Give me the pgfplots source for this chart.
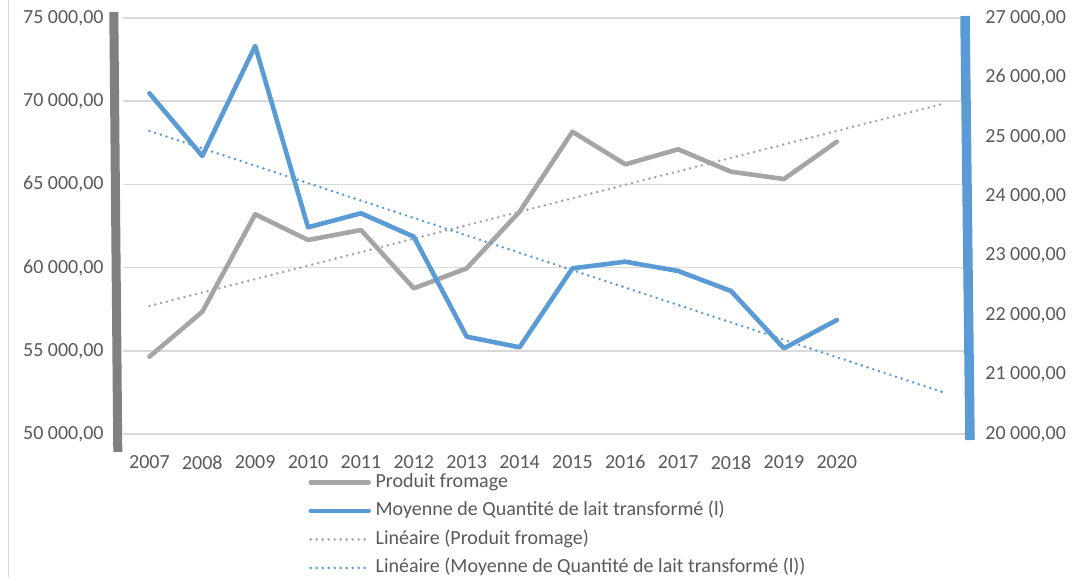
\documentclass[border=0pt]{standalone}
\usepackage{pgfplots}
\pgfplotsset{compat=1.18}
\usepackage{fontspec}
\setmainfont{Carlito}

\definecolor{fromage}{HTML}{A5A5A5}
\definecolor{lait}{HTML}{5B9BD5}
\definecolor{axegris}{HTML}{808080}
\definecolor{grille}{HTML}{D9D9D9}
\definecolor{texte}{HTML}{595959}

\pgfplotsset{
  base/.style={
    scale only axis, width=423pt, height=208pt,
    at={(0,0)}, anchor=south west,
    xmin=-0.5, xmax=15.5,
    scaled y ticks=false,
    axis line style={draw=none},
    tick style={draw=none},
    ticklabel style={font=\fontsize{10}{12}\selectfont, text=texte, inner sep=0pt},
  },
  serie/.style={line width=2.3pt, line join=round, line cap=round},
  tendance/.style={line width=1.4pt, line cap=round, dash pattern=on 0pt off 3pt},
}

\begin{document}
\begin{tikzpicture}
\path[use as bounding box] (-61.5pt,-71.5pt) rectangle (478.5pt,217pt);
\draw[grille, line width=0.75pt] (-57.35pt,-71.5pt) -- (-57.35pt,217pt);

% axe de gauche : produit fromage
\begin{axis}[base, name=ax1,
  ymin=50000, ymax=75000,
  ytick={50000,55000,...,75000},
  yticklabels={{50~000,00},{55~000,00},{60~000,00},{65~000,00},{70~000,00},{75~000,00}},
  yticklabel shift=9.5pt,
  xtick={0,...,13},
  xticklabels={2007,2008,2009,2010,2011,2012,2013,2014,2015,2016,2017,2018,2019,2020},
  xticklabel shift=10.5pt,
  ymajorgrids, grid style={grille, line width=0.75pt},
]
\addplot[fromage, serie] coordinates {
  (0,54645) (1,57349) (2,63202) (3,61658) (4,62259) (5,58754) (6,59956)
  (7,63358) (8,68165) (9,66206) (10,67109) (11,65762) (12,65323) (13,67566)
};
\addplot[fromage, tendance] coordinates {(0,57690) (15,69831)};
\end{axis}

% axe de droite : lait transforme
\begin{axis}[base, name=ax2,
  ymin=20000, ymax=27000,
  ytick={20000,21000,...,27000},
  yticklabels={{20~000,00},{21~000,00},{22~000,00},{23~000,00},{24~000,00},{25~000,00},{26~000,00},{27~000,00}},
  yticklabel pos=right,
  yticklabel shift=8pt,
  xtick=\empty,
  legend image code/.code={\draw[#1] (0pt,0pt) -- (29pt,0pt);},
  legend style={at={(axis description cs:0.2187,-0.0913)}, anchor=north west,
    draw=none, fill=none, inner sep=0pt, row sep=4.25pt, column sep=2.3pt,
    font=\fontsize{10}{12}\selectfont, text=texte,
    nodes={inner sep=0pt, text height=7.5pt, text depth=2.5pt}},
  legend cell align=left,
]
\addlegendimage{fromage, serie}
\addlegendentry{Produit fromage}
\addplot[lait, serie] coordinates {
  (0,25733) (1,24678) (2,26529) (3,23478) (4,23714) (5,23320) (6,21637)
  (7,21459) (8,22788) (9,22899) (10,22743) (11,22406) (12,21442) (13,21918)
};
\addlegendentry{Moyenne de Quantité de lait transformé (l)}
\addlegendimage{fromage, tendance}
\addlegendentry{Linéaire (Produit fromage)}
\addplot[lait, tendance] coordinates {(0,25100) (15,20706)};
\addlegendentry{Linéaire (Moyenne de Quantité de lait transformé (l))}
\end{axis}

\draw[axegris, line width=4.5pt] ([xshift=-4.6pt,yshift=3pt]ax1.north west) -- ([xshift=-2.6pt,yshift=-9pt]ax1.south west);
\draw[lait, line width=4.75pt] ([xshift=-2pt,yshift=1pt]ax2.north east) -- ([xshift=0.5pt,yshift=-3pt]ax2.south east);
\end{tikzpicture}
\end{document}
